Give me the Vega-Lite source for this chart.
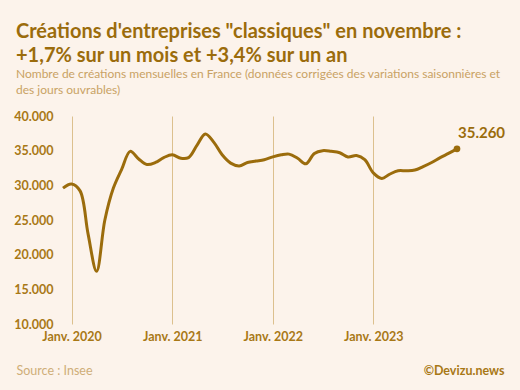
{
  "$schema": "https://vega.github.io/schema/vega-lite/v6.json",
  "width": 394,
  "height": 208,
  "autosize": {"type": "none"},
  "padding": {"left": 63, "top": 116, "right": 63, "bottom": 66},
  "background": "#fcf3eb",
  "config": {
    "font": "Lato",
    "view": {"stroke": null},
    "locale": {
      "number": {"decimal": ",", "thousands": ".", "grouping": [3], "currency": ["", " €"]}
    }
  },
  "title": {
    "text": ["Créations d'entreprises \"classiques\" en novembre :", "+1,7% sur un mois et +3,4% sur un an"],
    "subtitle": ["Nombre de créations mensuelles en France (données corrigées des variations saisonnières et", "des jours ouvrables)"],
    "anchor": "start",
    "frame": "group",
    "dx": -47,
    "font": "Lato",
    "fontSize": 20,
    "fontWeight": "bold",
    "color": "#9b6c0c",
    "lineHeight": 24.5,
    "subtitleFont": "Lato",
    "subtitleFontSize": 12,
    "subtitleColor": "#c9a264",
    "subtitleLineHeight": 16,
    "subtitlePadding": 3,
    "offset": 14
  },
  "data": {
    "values": [
      {"date": "2019-12-01", "v": 29600},
      {"date": "2020-01-01", "v": 30200},
      {"date": "2020-02-01", "v": 29200},
      {"date": "2020-03-01", "v": 23000},
      {"date": "2020-04-01", "v": 17600},
      {"date": "2020-05-01", "v": 25000},
      {"date": "2020-06-01", "v": 29600},
      {"date": "2020-07-01", "v": 32300},
      {"date": "2020-08-01", "v": 34900},
      {"date": "2020-09-01", "v": 33800},
      {"date": "2020-10-01", "v": 33000},
      {"date": "2020-11-01", "v": 33300},
      {"date": "2020-12-01", "v": 34000},
      {"date": "2021-01-01", "v": 34400},
      {"date": "2021-02-01", "v": 33900},
      {"date": "2021-03-01", "v": 34000},
      {"date": "2021-04-01", "v": 35800},
      {"date": "2021-05-01", "v": 37400},
      {"date": "2021-06-01", "v": 36200},
      {"date": "2021-07-01", "v": 34400},
      {"date": "2021-08-01", "v": 33200},
      {"date": "2021-09-01", "v": 32800},
      {"date": "2021-10-01", "v": 33300},
      {"date": "2021-11-01", "v": 33500},
      {"date": "2021-12-01", "v": 33700},
      {"date": "2022-01-01", "v": 34100},
      {"date": "2022-02-01", "v": 34400},
      {"date": "2022-03-01", "v": 34500},
      {"date": "2022-04-01", "v": 33900},
      {"date": "2022-05-01", "v": 33100},
      {"date": "2022-06-01", "v": 34600},
      {"date": "2022-07-01", "v": 35000},
      {"date": "2022-08-01", "v": 34900},
      {"date": "2022-09-01", "v": 34700},
      {"date": "2022-10-01", "v": 34100},
      {"date": "2022-11-01", "v": 34300},
      {"date": "2022-12-01", "v": 33700},
      {"date": "2023-01-01", "v": 31800},
      {"date": "2023-02-01", "v": 31000},
      {"date": "2023-03-01", "v": 31600},
      {"date": "2023-04-01", "v": 32100},
      {"date": "2023-05-01", "v": 32100},
      {"date": "2023-06-01", "v": 32200},
      {"date": "2023-07-01", "v": 32700},
      {"date": "2023-08-01", "v": 33300},
      {"date": "2023-09-01", "v": 34000},
      {"date": "2023-10-01", "v": 34600},
      {"date": "2023-11-01", "v": 35260}
    ]
  },
  "encoding": {
    "x": {
      "field": "date",
      "type": "temporal",
      "scale": {
        "type": "utc",
        "domain": [{"year": 2019, "month": 12, "date": 1, "utc": true}, {"year": 2023, "month": 11, "date": 1, "utc": true}]
      },
      "axis": {
        "values": [
          {"year": 2020, "month": 1, "date": 1, "utc": true},
          {"year": 2021, "month": 1, "date": 1, "utc": true},
          {"year": 2022, "month": 1, "date": 1, "utc": true},
          {"year": 2023, "month": 1, "date": 1, "utc": true}
        ],
        "labelExpr": "'Janv. ' + utcFormat(datum.value, '%Y')",
        "labelFont": "Lato",
        "labelFontSize": 12.5,
        "labelFontWeight": "bold",
        "labelColor": "#a87816",
        "labelFlush": false,
        "labelPadding": 6,
        "ticks": false,
        "domain": false,
        "grid": true,
        "gridColor": "#dcc08e",
        "gridWidth": 1,
        "title": "Source : Insee",
        "titleFont": "Lato",
        "titleFontSize": 12.5,
        "titleFontWeight": "normal",
        "titleColor": "#cfae78",
        "titleAlign": "left",
        "titleBaseline": "middle",
        "titleX": -47,
        "titleY": 46
      }
    },
    "y": {
      "field": "v",
      "type": "quantitative",
      "scale": {"domain": [10000, 40000], "nice": false, "zero": false},
      "axis": {
        "values": [10000, 15000, 20000, 25000, 30000, 35000, 40000],
        "format": ",.0f",
        "labelFont": "Lato",
        "labelFontSize": 12.5,
        "labelFontWeight": "bold",
        "labelColor": "#a87816",
        "labelPadding": 10,
        "ticks": false,
        "domain": false,
        "grid": false,
        "title": "©Devizu.news",
        "titleFont": "Lato",
        "titleFontSize": 12.5,
        "titleFontWeight": "bold",
        "titleColor": "#a87816",
        "titleAngle": 0,
        "titleAlign": "right",
        "titleBaseline": "middle",
        "titleX": 441,
        "titleY": 254
      }
    }
  },
  "layer": [
    {
      "mark": {"type": "line", "color": "#9b6c0c", "strokeWidth": 3, "interpolate": "catmull-rom"}
    },
    {
      "transform": [{"filter": {"field": "v", "equal": 35260}}],
      "mark": {"type": "point", "filled": true, "color": "#9b6c0c", "size": 45, "opacity": 1}
    },
    {
      "transform": [{"filter": {"field": "v", "equal": 35260}}],
      "mark": {"type": "text", "color": "#9b6c0c", "font": "Lato", "fontSize": 15, "fontWeight": "bold", "align": "left", "baseline": "alphabetic", "dx": 1, "dy": -11},
      "encoding": {"text": {"field": "v", "type": "quantitative", "format": ",.0f"}}
    }
  ]
}
